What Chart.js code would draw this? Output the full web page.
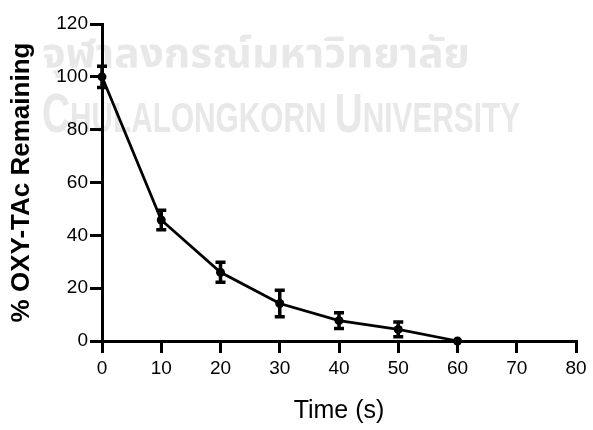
<!DOCTYPE html>
<html>
<head>
<meta charset="utf-8">
<title>OXY-TAc remaining</title>
<script src="https://cdn.jsdelivr.net/npm/chart.js@4/dist/chart.umd.min.js"></script>
<style>
  html, body { margin: 0; padding: 0; background: #fff; }
  #chart { display: block; }
</style>
</head>
<body>
<canvas id="chart" width="593" height="430"></canvas>
<script>
"use strict";

// data
const timeS = [0, 10, 20, 30, 40, 50, 60];
const remaining = [100, 45.8, 26, 14.2, 7.7, 4.4, 0];
const errSd = [4, 3.7, 3.8, 5, 3, 2.8, 0];

const xTicks = [0, 10, 20, 30, 40, 50, 60, 70, 80];
const yTicks = [0, 20, 40, 60, 80, 100, 120];

const xTitle = "Time (s)";
const yTitle = "% OXY-TAc Remaining";
const watermarkTh = "จุฬาลงกรณ์มหาวิทยาลัย";
const watermarkEn = ["C", "HULALONGKORN ", "U", "NIVERSITY"];

const FONT = "'Liberation Sans', Arial, Helvetica, sans-serif";

// faint university watermark behind the plot
const watermark = {
  id: "watermark",
  beforeDraw(chart) {
    const ctx = chart.ctx;
    ctx.save();
    ctx.fillStyle = "#e8e8e8";
    ctx.textBaseline = "alphabetic";

    ctx.font = "bold 40px 'Noto Sans Thai', 'DejaVu Sans', 'Noto Sans', sans-serif";
    const thW = ctx.measureText(watermarkTh).width;
    ctx.save();
    ctx.translate(42, 67);
    ctx.scale(428 / thW, 1);
    ctx.fillText(watermarkTh, 0, 0);
    ctx.restore();

    const big = "bold 56px 'Liberation Sans Narrow', 'Liberation Sans', sans-serif";
    const small = "bold 43px 'Liberation Sans Narrow', 'Liberation Sans', sans-serif";
    let total = 0;
    const widths = watermarkEn.map((part, i) => {
      ctx.font = i % 2 === 0 ? big : small;
      const w = ctx.measureText(part).width;
      total += w;
      return w;
    });
    ctx.save();
    ctx.translate(42, 132);
    ctx.scale(478 / total, 1);
    let x = 0;
    watermarkEn.forEach((part, i) => {
      ctx.font = i % 2 === 0 ? big : small;
      ctx.fillText(part, x, 0);
      x += widths[i];
    });
    ctx.restore();
    ctx.restore();
  }
};

// vertical error bars with caps
const errorBars = {
  id: "errorBars",
  afterDatasetsDraw(chart) {
    const ctx = chart.ctx;
    const xs = chart.scales.x;
    const ys = chart.scales.y;
    ctx.save();
    ctx.strokeStyle = "#000";
    ctx.lineWidth = 3.5;
    timeS.forEach((t, i) => {
      const e = errSd[i];
      if (!e) {
        return;
      }
      const px = xs.getPixelForValue(t);
      const top = ys.getPixelForValue(remaining[i] + e);
      const bot = ys.getPixelForValue(remaining[i] - e);
      ctx.beginPath();
      ctx.moveTo(px, top);
      ctx.lineTo(px, bot);
      ctx.moveTo(px - 5, top);
      ctx.lineTo(px + 5, top);
      ctx.moveTo(px - 5, bot);
      ctx.lineTo(px + 5, bot);
      ctx.stroke();
    });
    ctx.restore();
  }
};

const axisCommon = {
  type: "linear",
  grid: {
    display: true,
    drawOnChartArea: false,
    drawTicks: true,
    tickLength: 12,
    lineWidth: 3,
    color: "#000"
  },
  border: { display: true, width: 3, color: "#000" }
};

new Chart(document.getElementById("chart"), {
  type: "line",
  data: {
    datasets: [
      {
        data: timeS.map((t, i) => ({ x: t, y: remaining[i] })),
        borderColor: "#000",
        backgroundColor: "#000",
        borderWidth: 2.8,
        pointRadius: 4.5,
        pointBackgroundColor: "#000",
        pointBorderWidth: 0,
        tension: 0,
        clip: false
      }
    ]
  },
  options: {
    responsive: false,
    animation: false,
    layout: { padding: { top: 24, right: 17, left: 0, bottom: 0 } },
    plugins: {
      legend: { display: false },
      tooltip: { enabled: false }
    },
    scales: {
      x: {
        ...axisCommon,
        min: 0,
        max: 80,
        afterBuildTicks: (scale) => {
          scale.ticks = xTicks.map((v) => ({ value: v }));
        },
        ticks: {
          color: "#000",
          padding: 4,
          maxRotation: 0,
          font: { family: FONT, size: 19 }
        },
        title: {
          display: true,
          text: xTitle,
          color: "#000",
          padding: { top: 0, bottom: 4 },
          font: { family: FONT, size: 25 }
        },
        afterFit: (scale) => {
          scale.height = 89;
        }
      },
      y: {
        ...axisCommon,
        min: 0,
        max: 120,
        afterBuildTicks: (scale) => {
          scale.ticks = yTicks.map((v) => ({ value: v }));
        },
        ticks: {
          color: "#000",
          padding: 2,
          font: { family: FONT, size: 19 }
        },
        title: {
          display: true,
          text: yTitle,
          color: "#000",
          padding: { top: 6, bottom: 0 },
          font: { family: FONT, size: 26, weight: "bold" }
        },
        afterFit: (scale) => {
          scale.width = 102;
        }
      }
    }
  },
  plugins: [watermark, errorBars]
});
</script>
</body>
</html>
